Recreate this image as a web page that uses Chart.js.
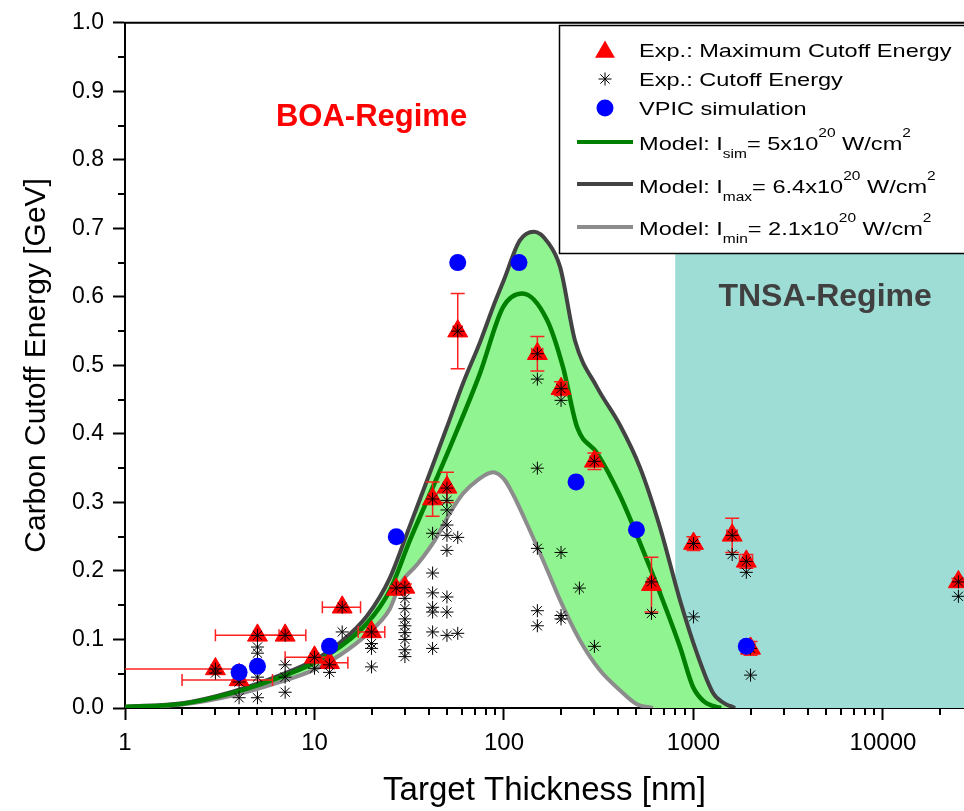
<!DOCTYPE html>
<html>
<head>
<meta charset="utf-8">
<title>Carbon Cutoff Energy</title>
<script src="https://cdn.jsdelivr.net/npm/chart.js@4.4.1/dist/chart.umd.min.js"></script>
<style>
  html, body { margin: 0; padding: 0; background: #fff; overflow: hidden; }
  canvas { display: block; }
</style>
</head>
<body>
<canvas id="myChart" width="964" height="811"></canvas>
<script>
// model curves (target thickness in nm, energy in GeV)
var maxX = [1, 2, 3.7, 6.6, 10, 13.6, 19, 25, 30.8, 40.6, 50, 60.8, 75, 87.5, 100, 121, 144, 170, 198, 237, 310, 409, 522, 665, 849, 1042, 1268, 1450, 1560, 1660];
var maxY = [0.002, 0.007, 0.024, 0.048, 0.07, 0.095, 0.135, 0.19, 0.255, 0.343, 0.41, 0.474, 0.535, 0.585, 0.625, 0.682, 0.695, 0.68, 0.643, 0.536, 0.468, 0.413, 0.351, 0.264, 0.157, 0.08, 0.022, 0.007, 0.003, 0];

var simX = [1, 2, 3.7, 6.6, 10, 13.6, 19, 25, 31.9, 39.3, 53.8, 74.6, 98.9, 125, 169, 205, 243, 310, 409, 522, 665, 849, 993, 1130, 1268, 1400];
var simY = [0.0015, 0.006, 0.022, 0.045, 0.066, 0.089, 0.124, 0.172, 0.245, 0.303, 0.391, 0.488, 0.585, 0.605, 0.566, 0.497, 0.41, 0.372, 0.31, 0.241, 0.168, 0.089, 0.031, 0.01, 0.003, 0];

var minX = [1, 2, 3.7, 6.6, 10, 13.6, 19, 25, 28.2, 35, 43.2, 52, 60.8, 72, 87.5, 100, 111, 137, 170, 198, 250, 321, 409, 500, 611];
var minY = [0.001, 0.005, 0.018, 0.038, 0.056, 0.077, 0.108, 0.145, 0.18, 0.21, 0.245, 0.285, 0.313, 0.332, 0.344, 0.334, 0.313, 0.259, 0.2, 0.157, 0.1, 0.055, 0.026, 0.006, 0];

// Exp.: maximum cutoff energy with error bars
var triX    = [3, 4, 5, 7, 10, 12, 14, 20, 27, 30, 42, 50, 57, 150, 200, 300, 600, 1000, 1600, 1900, 2000, 25000];
var triY    = [0.057, 0.041, 0.106, 0.106, 0.074, 0.066, 0.147, 0.111, 0.173, 0.176, 0.305, 0.322, 0.55, 0.517, 0.466, 0.36, 0.18, 0.24, 0.252, 0.214, 0.087, 0.184];
var triYErr = [0, 0, 0, 0, 0, 0, 0, 0, 0.005, 0.005, 0.025, 0.022, 0.055, 0.025, 0.01, 0.012, 0.04, 0.01, 0.025, 0.01, 0.01, 0.005];
var triXLo  = [0.8, 2, 3, 5, 7, 10, 11, 17, 26, 28.5, 40, 48, 54, 140, 190, 285, 570, 950, 1500, 1750, 1900, 24000];
var triXHi  = [4, 6, 6.5, 9, 12, 15, 17.5, 23.5, 28, 31.5, 44, 52, 60, 160, 215, 315, 630, 1050, 1700, 2050, 2100, 26000];

// Exp.: cutoff energy
var starX = [3, 3, 4, 4, 5, 5, 5, 5, 5, 7, 7, 7, 7, 10, 10, 12, 12, 14, 14, 20, 20, 20, 20, 27,
             30, 30, 30, 30, 30, 30, 30, 30, 30,
             42, 42, 42, 42, 42, 42, 42, 42,
             50, 50, 50, 50, 50, 50, 50, 50, 50,
             57, 57, 57, 150, 150, 150, 150, 150, 150, 200, 200, 200, 200, 200, 250, 300, 300,
             600, 600, 1000, 1000, 1600, 1600, 1900, 1900, 2000, 2000, 25000, 25000];
var starY = [0.057, 0.051, 0.038, 0.015, 0.106, 0.089, 0.08, 0.045, 0.015, 0.106, 0.063, 0.045, 0.023, 0.074, 0.058, 0.063, 0.052, 0.147, 0.111, 0.111, 0.094, 0.087, 0.06, 0.175,
             0.176, 0.16, 0.145, 0.13, 0.12, 0.11, 0.1, 0.085, 0.075,
             0.305, 0.255, 0.197, 0.168, 0.147, 0.14, 0.111, 0.087,
             0.321, 0.303, 0.289, 0.267, 0.252, 0.23, 0.162, 0.14, 0.106,
             0.55, 0.249, 0.109, 0.517, 0.48, 0.35, 0.233, 0.142, 0.12, 0.466, 0.449, 0.227, 0.135, 0.13, 0.175, 0.36, 0.09,
             0.184, 0.138, 0.24, 0.133, 0.252, 0.224, 0.214, 0.198, 0.087, 0.048, 0.184, 0.163];

// VPIC simulation
var vpicX = [4, 5, 12, 27, 57, 120, 240, 500, 1900];
var vpicY = [0.052, 0.061, 0.09, 0.25, 0.65, 0.65, 0.33, 0.26, 0.09];

// TNSA regime region
var tnsaX = [800, 26760];
var tnsaY = [0.665, 0.665];

var xTickValues = [1, 10, 100, 1000, 10000];
var xMin = 1, xMax = 26760;

var fontFamily = "'Liberation Sans', Arial, sans-serif";
var tealColor = 'rgb(157,221,213)';
var fillGreen = 'rgb(144,245,144)';

function toPoints(xs, ys){
	var pts = [];
	for(var i=0; i<xs.length; i++){
		pts.push({x: xs[i], y: ys[i]});
	}
	return pts;
}

function line(ctx, x1, y1, x2, y2){
	ctx.beginPath();
	ctx.moveTo(x1, y1);
	ctx.lineTo(x2, y2);
	ctx.stroke();
}

function drawTriangle(ctx, x, y, r){
	ctx.beginPath();
	ctx.moveTo(x, y - r);
	ctx.lineTo(x + r * Math.sin(2 * Math.PI / 3), y + r / 2);
	ctx.lineTo(x - r * Math.sin(2 * Math.PI / 3), y + r / 2);
	ctx.closePath();
	ctx.fill();
}

function drawStar(ctx, x, y, r){
	var d = r * Math.SQRT1_2;
	line(ctx, x, y - r, x, y + r);
	line(ctx, x - r, y, x + r, y);
	line(ctx, x - d, y - d, x + d, y + d);
	line(ctx, x - d, y + d, x + d, y - d);
}

// error bars under the red triangles
var errorBarPlugin = {
	id: 'errorBars',
	beforeDatasetDraw: function(chart, args){
		if(args.index !== 5) return;
		var xs = chart.scales.x, ys = chart.scales.y, ctx = chart.ctx, a = chart.chartArea;
		ctx.save();
		ctx.beginPath();
		ctx.rect(a.left, a.top, a.right - a.left, a.bottom - a.top);
		ctx.clip();
		ctx.strokeStyle = '#ff2020';
		ctx.lineWidth = 1.5;
		for(var i=0; i<triX.length; i++){
			var px = xs.getPixelForValue(triX[i]);
			var py = ys.getPixelForValue(triY[i]);
			if(triYErr[i] > 0){
				var t = ys.getPixelForValue(triY[i] + triYErr[i]);
				var b = ys.getPixelForValue(triY[i] - triYErr[i]);
				line(ctx, px, t, px, b);
				line(ctx, px - 7, t, px + 7, t);
				line(ctx, px - 7, b, px + 7, b);
			}
			var l = xs.getPixelForValue(triXLo[i]);
			var r = xs.getPixelForValue(triXHi[i]);
			line(ctx, l, py, r, py);
			line(ctx, l, py - 6, l, py + 6);
			line(ctx, r, py - 6, r, py + 6);
		}
		ctx.restore();
	}
};

// minor ticks, top frame line, regime labels and the legend
var decorPlugin = {
	id: 'decor',
	afterDatasetsDraw: function(chart){
		var ctx = chart.ctx, xs = chart.scales.x, ys = chart.scales.y;
		ctx.save();
		ctx.textAlign = 'center';
		ctx.textBaseline = 'middle';
		ctx.font = 'bold 31px ' + fontFamily;
		ctx.fillStyle = '#ff0000';
		ctx.fillText('BOA-Regime', xs.getPixelForValue(20), ys.getPixelForValue(0.862));
		ctx.font = 'bold 32px ' + fontFamily;
		ctx.fillStyle = '#404040';
		ctx.fillText('TNSA-Regime', xs.getPixelForValue(4950), ys.getPixelForValue(0.6));
		ctx.restore();
	},
	afterDraw: function(chart){
		var ctx = chart.ctx, xs = chart.scales.x, ys = chart.scales.y, a = chart.chartArea;
		ctx.save();
		ctx.strokeStyle = '#000';
		ctx.lineWidth = 2;
		// minor ticks
		for(var d=1; d<=10000; d*=10){
			for(var k=2; k<10; k++){
				if(k*d > xMax) continue;
				var px = Math.round(xs.getPixelForValue(k*d));
				line(ctx, px, a.bottom, px, a.bottom + 7);
			}
		}
		for(var v=0.05; v<1; v+=0.1){
			var py = Math.round(ys.getPixelForValue(v));
			line(ctx, a.left - 7, py, a.left, py);
		}
		// top frame
		line(ctx, a.left - 1, a.top, a.right, a.top);
		drawLegend(ctx);
		ctx.restore();
	}
};

function drawRich(ctx, parts, x, y){
	ctx.save();
	ctx.translate(x, y);
	ctx.scale(1.24, 1);
	var cx = 0;
	for(var i=0; i<parts.length; i++){
		var txt = parts[i][0], kind = parts[i][1], dy = 0;
		if(kind === 'n'){
			ctx.font = '19px ' + fontFamily;
		}else{
			ctx.font = '12.5px ' + fontFamily;
			dy = kind === 'sub' ? 8 : -13;
		}
		ctx.fillText(txt, cx, dy);
		cx += ctx.measureText(txt).width;
	}
	ctx.restore();
}

function drawLegend(ctx){
	var boxL = 559, boxT = 25, boxB = 253;
	ctx.fillStyle = '#fff';
	ctx.fillRect(boxL, boxT, 420, boxB - boxT);
	ctx.strokeStyle = '#000';
	ctx.lineWidth = 1.5;
	ctx.strokeRect(boxL + 0.5, boxT + 0.5, 420, boxB - boxT);

	var mx = 605;
	ctx.fillStyle = '#ff0000';
	drawTriangle(ctx, mx, 52, 11.5);
	ctx.strokeStyle = '#000';
	ctx.lineWidth = 1;
	drawStar(ctx, mx, 79, 6.5);
	ctx.fillStyle = '#0000ff';
	ctx.beginPath();
	ctx.arc(mx, 108, 8.5, 0, Math.PI * 2);
	ctx.fill();

	ctx.lineWidth = 4;
	ctx.strokeStyle = '#008000';
	line(ctx, 577, 142, 633, 142);
	ctx.strokeStyle = '#434343';
	line(ctx, 577, 184, 633, 184);
	ctx.strokeStyle = '#8c8c8c';
	line(ctx, 577, 227, 633, 227);

	ctx.fillStyle = '#000';
	ctx.textAlign = 'left';
	ctx.textBaseline = 'alphabetic';
	drawRich(ctx, [['Exp.: Maximum Cutoff Energy', 'n']], 639, 57);
	drawRich(ctx, [['Exp.: Cutoff Energy', 'n']], 639, 86);
	drawRich(ctx, [['VPIC simulation', 'n']], 639, 115);
	drawRich(ctx, [['Model: I', 'n'], ['sim', 'sub'], ['= 5x10', 'n'], ['20', 'sup'], [' W/cm', 'n'], ['2', 'sup']], 639, 150);
	drawRich(ctx, [['Model: I', 'n'], ['max', 'sub'], ['= 6.4x10', 'n'], ['20', 'sup'], [' W/cm', 'n'], ['2', 'sup']], 639, 193);
	drawRich(ctx, [['Model: I', 'n'], ['min', 'sub'], ['= 2.1x10', 'n'], ['20', 'sup'], [' W/cm', 'n'], ['2', 'sup']], 639, 235);
}

var curveBase = {
	pointRadius: 0,
	fill: false,
	cubicInterpolationMode: 'monotone'
};

function curve(opts){
	return Object.assign({type: 'line'}, curveBase, opts);
}

var chartData = {
	datasets: [
		curve({ label: 'TNSA', data: toPoints(tnsaX, tnsaY), fill: 'origin', backgroundColor: tealColor,
			borderColor: 'rgba(0,0,0,0)', borderWidth: 0, cubicInterpolationMode: 'default', tension: 0, order: 10 }),
		curve({ label: 'fillBase', data: toPoints(minX.concat([1000, 1700]), minY.concat([0, 0])),
			borderColor: 'rgba(0,0,0,0)', borderWidth: 0, order: 9 }),
		curve({ label: 'Imax', data: toPoints(maxX, maxY), fill: 1, backgroundColor: fillGreen,
			borderColor: '#434343', borderWidth: 4, order: 8 }),
		curve({ label: 'Imin', data: toPoints(minX, minY), borderColor: '#8c8c8c', borderWidth: 4, order: 7 }),
		curve({ label: 'Isim', data: toPoints(simX, simY), borderColor: '#008000', borderWidth: 4.5, order: 6 }),
		{ type: 'line', label: 'Exp.: Maximum Cutoff Energy', data: toPoints(triX, triY), showLine: false,
			pointStyle: 'triangle', pointRadius: 11.5, backgroundColor: '#ff0000', borderColor: '#ff0000', borderWidth: 1, order: 4 },
		{ type: 'line', label: 'Exp.: Cutoff Energy', data: toPoints(starX, starY), showLine: false,
			pointStyle: 'star', pointRadius: 6.5, backgroundColor: '#000', borderColor: '#000', borderWidth: 1, order: 3 },
		{ type: 'line', label: 'VPIC simulation', data: toPoints(vpicX, vpicY), showLine: false,
			pointStyle: 'circle', pointRadius: 8.5, backgroundColor: '#0000ff', borderWidth: 0, order: 2 }
	]
};

var chartOptions = {
	responsive: false,
	animation: false,
	devicePixelRatio: 1,
	events: [],
	layout: { autoPadding: false, padding: { top: 22, right: 0, left: 0, bottom: 0 } },
	plugins: {
		legend: { display: false },
		tooltip: { enabled: false }
	},
	scales: {
		x: {
			type: 'logarithmic',
			min: xMin,
			max: xMax,
			afterBuildTicks: function(axis){
				axis.ticks = xTickValues.map(function(v){ return {value: v}; });
			},
			afterFit: function(axis){
				axis.height = 103;
				axis.paddingRight = 0;
				axis.paddingLeft = 0;
			},
			ticks: {
				color: '#000',
				font: { family: fontFamily, size: 24 },
				padding: 9,
				maxRotation: 0,
				autoSkip: false,
				callback: function(value){ return String(value); }
			},
			grid: { display: true, drawOnChartArea: false, tickLength: 12, tickWidth: 2, tickColor: '#000' },
			border: { display: true, color: '#000', width: 2 },
			title: { display: true, text: 'Target Thickness [nm]', color: '#000',
				font: { family: fontFamily, size: 33 }, padding: { top: 0, bottom: 0 } }
		},
		y: {
			type: 'linear',
			min: 0,
			max: 1,
			afterFit: function(axis){ axis.width = 125; },
			ticks: {
				stepSize: 0.1,
				color: '#000',
				font: { family: fontFamily, size: 23 },
				padding: 9,
				callback: function(value){ return value.toFixed(1); }
			},
			grid: { display: true, drawOnChartArea: false, tickLength: 12, tickWidth: 2, tickColor: '#000' },
			border: { display: true, color: '#000', width: 2 },
			title: { display: true, text: 'Carbon Cutoff Energy [GeV]', color: '#000',
				font: { family: fontFamily, size: 30 }, padding: { top: 19, bottom: 0 } }
		}
	}
};

var ctx = document.getElementById('myChart').getContext('2d');
var myChart = new Chart(ctx, {
	type: 'line',
	data: chartData,
	options: chartOptions,
	plugins: [errorBarPlugin, decorPlugin]
});
</script>
</body>
</html>
